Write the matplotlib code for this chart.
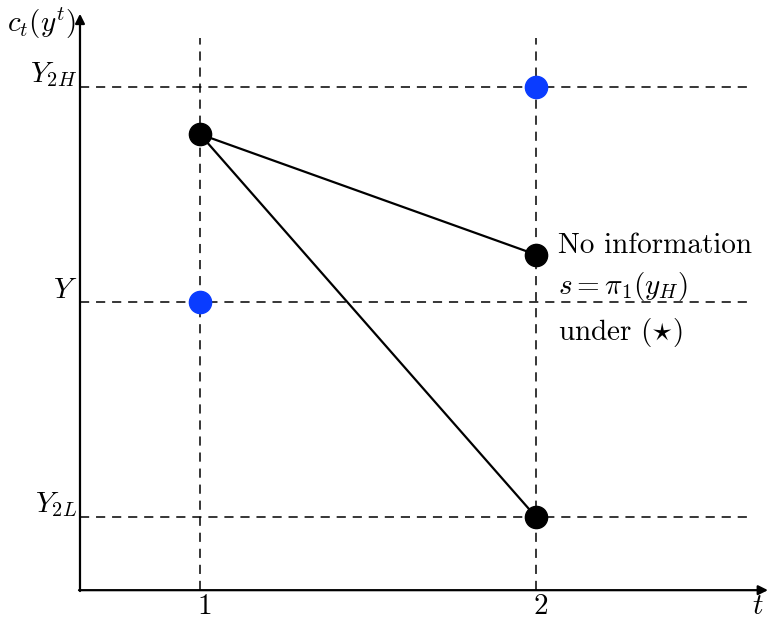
import matplotlib
matplotlib.use("Agg")
import matplotlib.pyplot as plt

plt.rcParams['font.family'] = 'serif'
plt.rcParams['font.serif'] = ['cmr10']
plt.rcParams['mathtext.fontset'] = 'cm'
plt.rcParams['axes.unicode_minus'] = False

# periods and income levels
periods = [1, 2]
income_labels = [r'$Y_{2H}$', r'$Y$', r'$Y_{2L}$']
income_levels = [1.5, 1.0, 0.5]

# consumption path under no information (black)
c_t1 = 1.39
c_t2 = [1.11, 0.5]

# endowment points (blue)
endow_t = [2, 1]
endow_y = [1.5, 1.0]

fs = 21
blue = '#0a3cff'

fig = plt.figure(figsize=(7.73, 6.19), dpi=100)
ax = fig.add_axes([0, 0, 1, 1])
ax.set_xlim(0.405, 2.705)
ax.set_ylim(0.263, 1.702)
ax.axis('off')

x0, y0 = 0.643, 0.33

# axes with arrow heads
ax.annotate('', xy=(2.69, y0), xytext=(x0 - 0.003, y0),
            arrowprops=dict(arrowstyle='-|>', lw=1.6, color='black',
                            mutation_scale=14, shrinkA=0, shrinkB=0))
ax.annotate('', xy=(x0, 1.67), xytext=(x0, y0 - 0.002),
            arrowprops=dict(arrowstyle='-|>', lw=1.6, color='black',
                            mutation_scale=14, shrinkA=0, shrinkB=0))

# dashed guide lines
for lvl in income_levels:
    ax.plot([x0, 2.645], [lvl, lvl], color='black', lw=1.1,
            dashes=(6, 4.5), zorder=1)
for p in periods:
    ax.plot([p, p], [y0, 1.614], color='black', lw=1.1,
            dashes=(6, 4.5), zorder=1)

# consumption paths
for c2 in c_t2:
    ax.plot([1, 2], [c_t1, c2], color='black', lw=1.6, zorder=2)
ax.plot([1, 2, 2], [c_t1] + c_t2, 'o', color='black', ms=16, zorder=3)
ax.plot(endow_t, endow_y, 'o', color=blue, ms=16, zorder=3)

# labels
for lab, lvl in zip(income_labels, income_levels):
    ax.text(x0 - 0.008, lvl - 0.005, lab, fontsize=fs, ha='right', va='bottom')
for p in periods:
    ax.text(p + 0.015, y0 - 0.008, str(p), fontsize=fs, ha='center', va='top')
ax.text(2.66, y0 - 0.008, r'$t$', fontsize=fs, ha='center', va='top')
ax.text(0.529, 1.647, r'$c_t(y^t)$', fontsize=fs, ha='center', va='center')

ax.text(2.065, 1.13, 'No information', fontsize=fs, ha='left', va='center')
ax.text(2.065, 1.035, r'$s = \pi_1(y_H)$', fontsize=fs, ha='left', va='center')
ax.text(2.065, 0.93, r'under $(\star)$', fontsize=fs, ha='left', va='center')

fig.savefig('out.png', dpi=100)
